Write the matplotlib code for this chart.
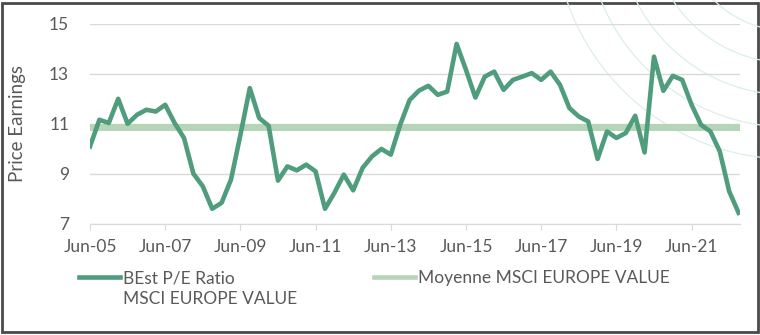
import numpy as np
import matplotlib
matplotlib.use("Agg")
import matplotlib.pyplot as plt
from matplotlib.lines import Line2D
from matplotlib.patches import Rectangle

plt.rcParams['font.family'] = ['Lato', 'DejaVu Sans']

# quarterly BEst P/E ratio, Jun-05 .. Sep-22
pe_ratio = [10.09, 11.16, 11.03, 12.0, 11.0, 11.36, 11.56, 11.49, 11.76, 11.03,
            10.43, 9.0, 8.49, 7.59, 7.83, 8.76, 10.55, 12.43, 11.23, 10.92,
            8.72, 9.29, 9.13, 9.36, 9.09, 7.59, 8.23, 8.96, 8.33, 9.23,
            9.69, 9.99, 9.76, 10.96, 11.95, 12.33, 12.52, 12.16, 12.29, 14.2,
            13.16, 12.05, 12.89, 13.09, 12.36, 12.76, 12.89, 13.03, 12.76, 13.09,
            12.56, 11.63, 11.29, 11.09, 9.59, 10.69, 10.43, 10.63, 11.32, 9.85,
            13.69, 12.32, 12.92, 12.76, 11.76, 10.96, 10.69, 9.89, 8.29, 7.43]
average_pe = 10.88

tick_labels = ["Jun-05", "Jun-07", "Jun-09", "Jun-11", "Jun-13",
               "Jun-15", "Jun-17", "Jun-19", "Jun-21"]
y_ticks = [7, 9, 11, 13, 15]

dark_green = "#4f9d7d"
light_green = "#b6d4b6"
text_grey = "#595959"

fig = plt.figure(figsize=(7.6, 3.35), dpi=100)

# faint decorative arcs in the top right corner (pixel coords)
bg = fig.add_axes([0, 0, 1, 1], zorder=-1)
bg.set_xlim(0, 760)
bg.set_ylim(335, 0)
bg.axis("off")
theta = np.linspace(0, 2 * np.pi, 400)
for r in [235, 203, 171, 139, 107, 75, 43]:
    bg.plot(789 + r * np.cos(theta), -76 + r * np.sin(theta), color="#dcefe7", lw=0.9)
bg.add_patch(Rectangle((1.5, 2.5), 756, 329, fill=False, edgecolor="#4a4a4a", lw=2))

ax = fig.add_axes([90 / 760, 1 - 223.5 / 335, 650 / 760, 199.5 / 335])
ax.patch.set_alpha(0)

x = np.arange(len(pe_ratio))
ax.axhline(average_pe, color=light_green, lw=5, zorder=2)
ax.plot(x, pe_ratio, color=dark_green, lw=3.3, zorder=3, solid_joinstyle="round")

ax.set_xlim(0, 69.15)
ax.set_ylim(7, 15)
ax.set_yticks(y_ticks)
ax.set_xticks(np.arange(0, 8 * len(tick_labels), 8))
ax.set_xticklabels(tick_labels)
ax.grid(axis="y", color="#d9d9d9", lw=1)
ax.set_axisbelow(True)
for s in ["left", "right", "top"]:
    ax.spines[s].set_visible(False)
ax.spines["bottom"].set_color("#d9d9d9")
ax.tick_params(axis="y", length=0, pad=15, labelsize=12.5, labelcolor=text_grey)
ax.tick_params(axis="x", length=4, color="#d9d9d9", pad=7, labelsize=12.5, labelcolor=text_grey)

ax.set_ylabel("Price Earnings", fontsize=13.5, color=text_grey, va="center")
ax.yaxis.set_label_coords(-0.112, 0.5)

handles = [Line2D([], [], color=dark_green, lw=3.3),
           Line2D([], [], color=light_green, lw=3.3)]
fig.legend(handles, ["BEst P/E Ratio", "Moyenne MSCI EUROPE VALUE"], ncol=2,
           loc="center left", bbox_to_anchor=(79 / 760, 1 - 278 / 335),
           frameon=False, fontsize=12.5, labelcolor=text_grey,
           handlelength=2.36, handletextpad=0.18, columnspacing=8.0,
           borderpad=0, borderaxespad=0)
fig.text(123 / 760, 1 - 299 / 335, "MSCI EUROPE VALUE", fontsize=12.5,
         color=text_grey, va="center", ha="left")

fig.savefig("out.png", dpi=100)
